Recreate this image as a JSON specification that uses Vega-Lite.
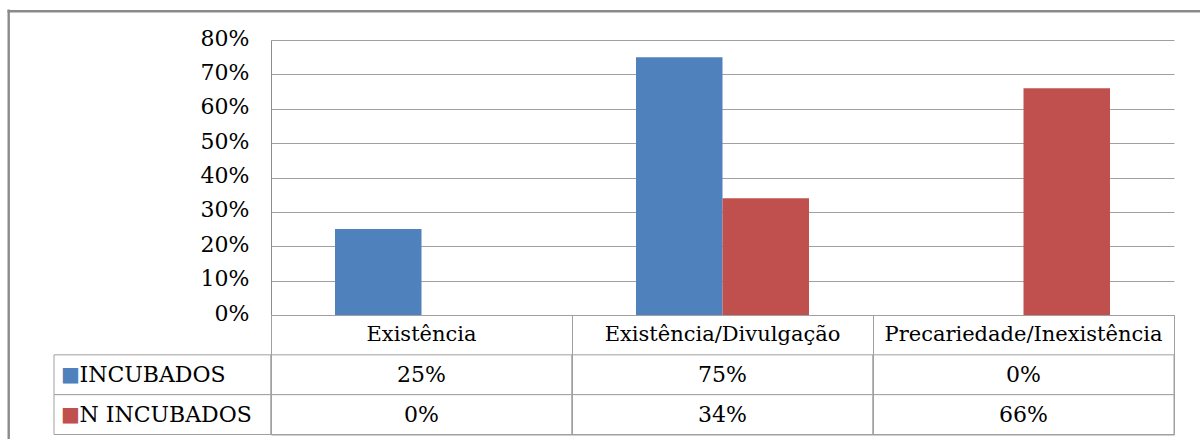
{
  "$schema": "https://vega.github.io/schema/vega-lite/v6.json",
  "autosize": {"type": "pad"},
  "padding": {"left": 4, "top": 10, "right": 0, "bottom": 0},
  "background": "white",
  "datasets": {
    "values": [
      {"category": "Existência", "series": "INCUBADOS", "value": 0.25},
      {"category": "Existência", "series": "N INCUBADOS", "value": 0},
      {"category": "Existência/Divulgação", "series": "INCUBADOS", "value": 0.75},
      {"category": "Existência/Divulgação", "series": "N INCUBADOS", "value": 0.34},
      {"category": "Precariedade/Inexistência", "series": "INCUBADOS", "value": 0},
      {"category": "Precariedade/Inexistência", "series": "N INCUBADOS", "value": 0.66}
    ],
    "categories": [
      {"category": "Existência"},
      {"category": "Existência/Divulgação"},
      {"category": "Precariedade/Inexistência"}
    ],
    "series": [
      {"series": "INCUBADOS"},
      {"series": "N INCUBADOS"}
    ]
  },
  "columns": 2,
  "spacing": 0,
  "bounds": "flush",
  "config": {"font": "DejaVu Serif", "view": {"stroke": null}},
  "concat": [
    {
      "width": 217,
      "height": 275,
      "data": {"name": "series"},
      "mark": {"type": "point", "opacity": 0},
      "encoding": {
        "x": {
          "datum": 0, "type": "quantitative",
          "scale": {"domain": [0, 1], "range": [-47, 1160]},
          "axis": {"orient": "top", "offset": 29.2, "domain": true, "domainColor": "#8a8a8a", "domainWidth": 2.4, "labels": false, "ticks": false, "grid": false, "title": null}
        },
        "y": {
          "datum": 0, "type": "quantitative",
          "scale": {"domain": [0, 1], "range": [440, -31]},
          "axis": {"orient": "left", "offset": 45.8, "domain": true, "domainColor": "#8a8a8a", "domainWidth": 2.4, "labels": false, "ticks": false, "grid": false, "title": null}
        }
      }
    },
    {
      "width": 903,
      "height": 275,
      "data": {"name": "values"},
      "mark": {"type": "bar"},
      "encoding": {
        "x": {
          "field": "category", "type": "nominal", "sort": null,
          "scale": {"domain": ["Existência", "Existência/Divulgação", "Precariedade/Inexistência"], "paddingInner": 0, "paddingOuter": 0},
          "axis": null
        },
        "xOffset": {
          "field": "series", "type": "nominal", "sort": null,
          "scale": {"domain": ["INCUBADOS", "N INCUBADOS"], "paddingInner": 0, "paddingOuter": 0.74}
        },
        "y": {
          "field": "value", "type": "quantitative",
          "scale": {"domain": [0, 0.8], "nice": false},
          "axis": {
            "values": [0, 0.1, 0.2, 0.3, 0.4, 0.5, 0.6, 0.7, 0.8],
            "format": ".0%", "title": null, "ticks": false, "labelPadding": 22,
            "labelFontSize": 22, "labelColor": "black", "labelFont": "DejaVu Serif", "labelOffset": -2,
            "domainColor": "#8c8c8c", "grid": true, "gridColor": "#a0a0a0"
          }
        },
        "color": {
          "field": "series", "type": "nominal",
          "scale": {"domain": ["INCUBADOS", "N INCUBADOS"], "range": ["#4F81BD", "#C0504D"]},
          "legend": null
        }
      }
    },
    {
      "width": 217,
      "height": 119.5,
      "data": {"name": "series"},
      "encoding": {
        "y": {
          "field": "series", "type": "nominal",
          "scale": {"domain": ["header", "INCUBADOS", "N INCUBADOS"], "paddingInner": 0, "paddingOuter": 0},
          "axis": null
        }
      },
      "layer": [
        {"mark": {"type": "rect", "fill": "white", "stroke": "#a0a0a0", "strokeWidth": 1}},
        {
          "mark": {"type": "text", "text": "■", "align": "left", "dx": -101.5, "fontSize": 20, "font": "DejaVu Sans"},
          "encoding": {
            "color": {
              "field": "series", "type": "nominal",
              "scale": {"domain": ["INCUBADOS", "N INCUBADOS"], "range": ["#4F81BD", "#C0504D"]},
              "legend": null
            }
          }
        },
        {
          "mark": {"type": "text", "align": "left", "dx": -83, "fontSize": 22, "color": "black", "font": "DejaVu Serif"},
          "encoding": {"text": {"field": "series", "type": "nominal"}}
        }
      ]
    },
    {
      "width": 903,
      "height": 119.5,
      "view": {"stroke": "#a0a0a0"},
      "encoding": {
        "x": {
          "field": "category", "type": "nominal", "sort": null,
          "scale": {"domain": ["Existência", "Existência/Divulgação", "Precariedade/Inexistência"], "paddingInner": 0, "paddingOuter": 0},
          "axis": {"grid": true, "bandPosition": 0, "labels": false, "ticks": false, "domain": false, "title": null, "gridColor": "#a0a0a0"}
        }
      },
      "layer": [
        {
          "data": {"name": "values"},
          "mark": {"type": "rect", "fill": "white", "stroke": "#a0a0a0", "strokeWidth": 1},
          "encoding": {
            "y": {
              "field": "series", "type": "nominal",
              "scale": {"domain": ["header", "INCUBADOS", "N INCUBADOS"], "paddingInner": 0, "paddingOuter": 0},
              "axis": null
            }
          }
        },
        {
          "data": {"name": "categories"},
          "mark": {"type": "text", "fontSize": 21, "color": "black", "font": "DejaVu Serif"},
          "encoding": {
            "y": {"datum": "header", "type": "nominal"},
            "text": {"field": "category", "type": "nominal"}
          }
        },
        {
          "data": {"name": "values"},
          "mark": {"type": "text", "fontSize": 22, "color": "black", "font": "DejaVu Serif"},
          "encoding": {
            "y": {"field": "series", "type": "nominal"},
            "text": {"field": "value", "type": "quantitative", "format": ".0%"}
          }
        }
      ]
    }
  ]
}
